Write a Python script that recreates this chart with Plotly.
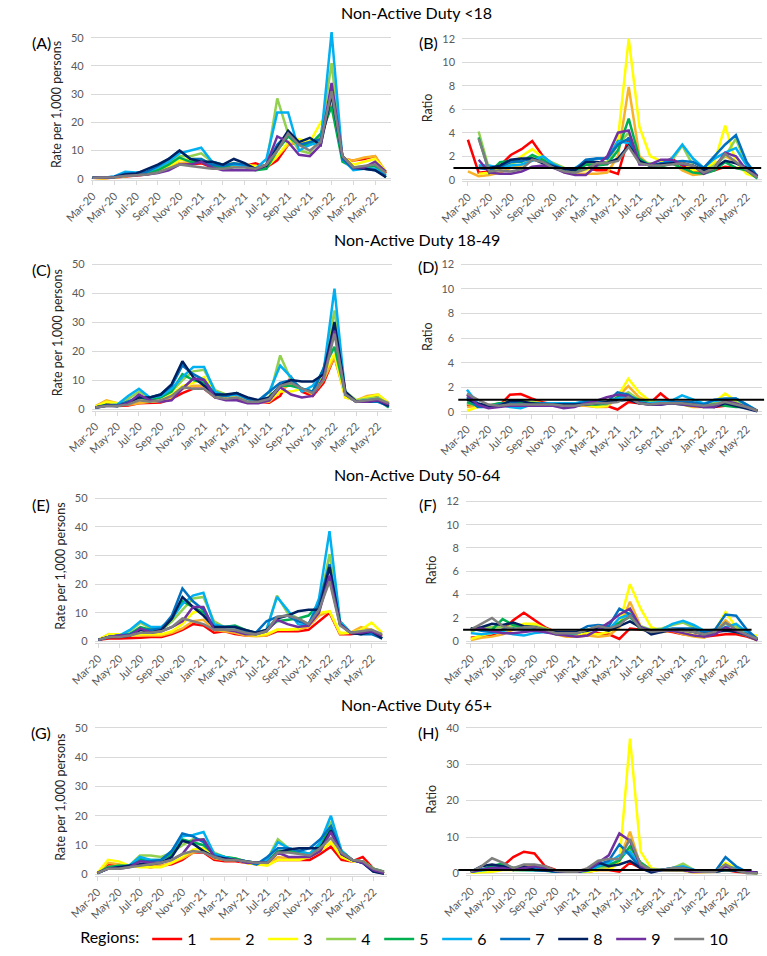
import plotly.graph_objects as go

MONTHS = ["Mar-20", "Apr-20", "May-20", "Jun-20", "Jul-20", "Aug-20", "Sep-20", "Oct-20",
          "Nov-20", "Dec-20", "Jan-21", "Feb-21", "Mar-21", "Apr-21", "May-21", "Jun-21",
          "Jul-21", "Aug-21", "Sep-21", "Oct-21", "Nov-21", "Dec-21", "Jan-22", "Feb-22",
          "Mar-22", "Apr-22", "May-22", "Jun-22"]
TICK_LABELS = MONTHS[::2]
REGIONS = ["1", "2", "3", "4", "5", "6", "7", "8", "9", "10"]
COLORS = ["#FF0000", "#F7B228", "#FFFF00", "#92D050", "#00B050",
          "#00B0F0", "#0070C0", "#002060", "#7030A0", "#7F7F7F"]

# (A) Non-Active Duty <18, rate per 1,000
rate_u18 = [
    [0.3,0.2,0.4,0.8,1.2,1.5,2.5,3.5,5.5,5,5.5,4,3.5,4.5,4.5,5.5,4,6.5,12,13,12,14,27,7,6.5,7,8,2],
    [0.3,0.2,0.4,0.9,1.3,1.6,2.8,4,5.5,6,6,4.5,4,4.5,4.5,4,4,8,12,13,12,15,28,7,6.5,7.5,8,2.5],
    [0.3,0.2,0.5,1,1.5,1.8,3,4.5,6.5,7,7,5,4,5,5,4.5,4,8,13,14,13,20,25,8,5,6,7,2.5],
    [0.3,0.3,0.6,1.4,1.8,2,3.5,5.5,8,8,9,6,5,5.5,5,3.5,5,28.5,16,10,9,15,41,7,4,4.5,4.5,1.5],
    [0.3,0.3,0.6,1.2,1.6,2,3,5,7.5,6,6,4.5,4,5,4.5,3,3.5,10,15,12,12,16,25.5,6,4,4,4.5,0.5],
    [0.3,0.3,0.8,2.5,2.2,2.5,4,6,9,10,11,6,5,5,4.5,3.5,7,23.5,23.5,10,12,13,52,7,3,3.5,3.5,1],
    [0.3,0.3,0.7,1.8,2,2.5,4.5,7,10,7,7,5,4.5,5.5,5,3.5,5,12,16,12,13,14,30,7,3.5,3.5,3,1],
    [0.3,0.3,0.6,1.5,1.8,3.5,5,7,10,7,6,6,5,7,5.5,3.5,4.5,11,17,13,14.5,12,30,8,4,3.5,3,0.5],
    [0.3,0.3,0.5,1,1.2,1.5,2,3,5,5,6,4,3,3,3,3,5,15,13,8.5,8,12,34,8,4,4,6,2.5],
    [0.3,0.3,0.5,1,1.2,1.5,2.2,3.5,5,4.5,4,3.5,3.5,4,4,3.5,5,10,16,12,10,13,31,8,4,4.5,5,2],
]
# (B) Non-Active Duty <18, ratio
ratio_u18 = [
    [3.4,0.6,0.7,1.2,2.1,2.6,3.3,2.0,1.2,0.8,0.9,1.0,0.8,0.8,0.5,3.6,1.5,1.3,1.3,1.8,1.2,0.8,0.6,0.8,1.1,1.0,0.9,0.2],
    [0.7,0.3,0.4,0.6,1.0,1.2,1.8,1.6,1.2,0.6,0.5,0.5,0.5,0.6,2.0,7.9,2.0,1.2,1.3,1.5,0.8,0.4,0.5,1.3,2.0,1.5,0.8,0.2],
    [None,0.5,0.6,0.9,1.3,2.0,2.6,1.9,1.3,0.8,0.7,0.8,1.2,1.5,3.5,12.0,4.5,2.0,1.6,1.5,1.5,0.8,0.8,1.5,4.6,1.5,0.5,0.2],
    [None,4.1,0.8,1.2,1.4,1.6,2.0,1.8,1.4,1.0,0.8,1.4,1.4,1.5,3.0,4.0,1.5,1.4,1.3,1.6,2.9,1.2,0.8,1.2,2.0,3.5,1.2,0.1],
    [None,3.6,0.6,1.5,1.6,1.5,2.1,1.7,1.1,0.7,0.6,1.3,1.2,1.3,2.5,5.2,1.8,1.2,1.1,1.4,1.0,0.6,0.5,0.8,1.5,1.0,0.8,0.1],
    [None,1.2,1.2,1.0,1.2,1.3,1.6,2.0,1.3,0.9,1.0,1.5,1.8,1.8,3.3,3.1,1.6,1.2,1.3,1.8,3.0,1.8,1.0,1.8,2.3,2.7,1.2,0.2],
    [None,1.0,0.9,1.1,1.5,1.6,1.8,1.5,1.2,0.9,0.9,1.7,1.8,1.8,3.0,3.5,1.5,1.2,1.4,1.5,1.6,1.5,1.0,2.0,3.0,3.8,1.5,0.3],
    [None,1.0,1.0,1.2,1.7,1.8,1.8,1.4,1.1,0.9,0.8,1.5,1.5,1.4,1.8,2.9,1.6,1.2,1.3,1.4,1.4,1.2,0.8,1.0,1.6,1.4,1.0,0.3],
    [None,1.7,0.6,0.5,0.5,0.7,1.1,1.2,1.0,0.6,0.4,0.4,1.2,2.0,4.0,4.2,1.3,1.3,1.7,1.7,1.3,1.2,0.5,1.0,2.3,2.0,0.8,0.3],
    [None,3.5,0.7,0.8,0.7,0.9,1.7,1.5,1.0,0.7,0.6,0.9,1.4,1.4,1.6,2.8,1.4,1.2,1.2,1.3,1.4,1.2,0.6,1.0,2.2,1.5,0.8,0.2],
]
# (C) Non-Active Duty 18-49, rate per 1,000
rate_18_49 = [
    [0.5,2.0,1.0,1.2,2.0,2.2,2.2,3.5,5.5,7,7,4,3.5,3.5,2.5,2.5,2.2,4.5,11,6,4.5,9,18,5,2.5,4,4.5,1.5],
    [1,3,2,1.5,2,2.5,2.5,4,7,8,8,5,4,4,3,2.5,2.5,6,9,7,5,10,18,4,3,4.5,5,2],
    [0.8,2.5,2,1.8,3,2.5,3,5,8,9,11,6,4,5,3,2.5,3,6,6,7,6,12,19,4,3,4,5,2],
    [0.5,1.5,1.5,3.5,6,4,4,6,10,13,13.5,6.5,5,5,3.5,2.5,4,18.5,10,7,6,13,34,6,3,3.5,4,1.5],
    [0.5,1.5,1,2,4,3,4,6,12,10,9,5,4.5,5.5,3.5,2.5,3,8,8,7,6,14,21.5,5,2.5,3,3,0.5],
    [0.3,1.2,1.5,4.5,7,4,4.5,7,11,14.5,14.5,6,4.5,5,3.5,2.5,6,15,11,6,8,13,41.5,5,2.5,3,3.5,1],
    [0.5,1.2,1.2,2.5,4,4,5,8,15,12,10,5,4.5,5.5,3.5,3,6,9,10,7,6,14,28,5.5,2.5,2.5,2.5,1],
    [0.5,1.2,1,2,4,4,5,8.5,16.5,11,8,5,5,5.5,4,3,4,8,10,9.5,9.5,12,30,6,2.5,2.5,3,1],
    [0.5,1,1,2,5,3,2.5,3,7,10.5,10,4,3,3,2,2,3,7.5,5,4,4.5,11,27,5,2.5,2.5,3,1.5],
    [0.5,1,1,1.5,3,2.5,3,4.5,7.5,7,7,4,3.5,4,2.5,2.5,3.5,8,9,7,5.5,10,26,5,2.5,3,3.5,2],
]
# (D) Non-Active Duty 18-49, ratio
ratio_18_49 = [
    [0.5,0.6,0.5,0.5,1.4,1.45,1.1,0.8,0.6,0.6,0.6,0.6,0.5,0.5,0.2,0.8,0.7,0.7,1.5,0.8,0.7,0.6,0.5,0.4,0.5,0.5,0.4,0.1],
    [0.4,0.5,0.5,0.6,0.8,0.9,0.8,0.7,0.6,0.6,0.5,0.5,0.4,0.4,1.2,2.1,1.2,0.8,0.7,0.8,0.6,0.4,0.4,0.6,1.0,0.8,0.5,0.1],
    [0.1,0.4,0.5,0.6,0.9,0.9,0.8,0.7,0.7,0.6,0.6,0.6,0.4,0.5,1.2,2.7,1.6,0.9,0.8,0.8,0.7,0.5,0.5,0.8,1.5,0.9,0.5,0.1],
    [0.7,0.5,0.5,0.7,0.8,0.8,0.8,0.7,0.7,0.7,0.7,0.7,0.6,0.6,1.1,1.6,1.0,0.8,0.8,0.8,0.7,0.5,0.6,0.7,0.8,0.8,0.5,0.1],
    [0.8,0.5,0.5,0.7,0.7,0.7,0.7,0.7,0.7,0.7,0.6,0.6,0.6,0.7,1.2,1.3,1.0,0.7,0.7,0.7,0.6,0.5,0.5,0.6,0.5,0.4,0.4,0.1],
    [1.8,0.7,0.4,0.6,0.4,0.3,0.6,0.7,0.7,0.7,0.7,0.9,0.9,0.8,1.1,1.3,0.8,0.7,0.8,0.9,1.35,1.0,0.7,0.9,1.0,1.1,0.6,0.1],
    [1.2,0.4,0.4,0.6,0.8,0.6,0.6,0.7,0.6,0.6,0.6,0.8,0.7,0.8,1.6,1.4,0.8,0.6,0.6,0.8,0.8,0.8,0.6,1.0,1.1,1.1,0.6,0.1],
    [1.0,0.7,0.5,0.5,0.9,0.9,0.7,0.6,0.6,0.6,0.6,0.6,0.7,0.8,0.9,1.0,0.7,0.6,0.6,0.7,0.7,0.6,0.4,0.4,0.7,0.5,0.3,0.05],
    [1.4,0.6,0.3,0.4,0.5,0.5,0.5,0.5,0.5,0.3,0.4,0.7,0.9,1.2,1.4,1.3,0.7,0.6,0.6,0.7,0.6,0.5,0.4,0.4,0.9,0.7,0.4,0.1],
    [1.5,1.0,0.6,0.5,0.6,0.6,0.6,0.6,0.6,0.5,0.5,0.6,0.7,0.7,0.8,1.2,0.7,0.6,0.7,0.7,0.7,0.6,0.5,0.6,0.8,0.6,0.4,0.1],
]
# (E) Non-Active Duty 50-64, rate per 1,000
rate_50_64 = [
    [0.5,1,1,1,1.2,1.5,1.5,2.5,4,6,5.5,3,3.5,2.5,2,2,2,3.5,3.5,3.5,4,7,10,2.5,2.5,3,3,1.5],
    [0.5,2.5,2,2,2,2,2,3,4.5,7,7.5,4,3.5,3,2,1.8,2,4,4,4,5,9,10.5,2.5,3,5,4,2],
    [0.5,2.5,2.5,2,2.5,2.5,2.5,3.5,6,10,11,5,4,3.5,2.5,2,2.5,4,4,4.5,6,10,10.5,3,3,4,6.5,3],
    [0.5,1.5,2,3.5,6.5,4.5,4,7,11,15,15.5,7,5,5,3.5,2.5,4,16,10,8,6,12,30.5,7,3,3.5,4,2],
    [0.5,1.5,2,2.5,5,4,4,8,14,12,10,5,5,5.5,4,3,4,7,7.5,8,9,13,22,6,3,3,3,1],
    [0.5,1.5,2,4,7,5,5,8,13,16,17,6,5,5,3.5,2.5,4,15.5,11,6,5.5,15,38.5,7,3,3,3.5,1],
    [0.5,1.5,2,2.5,4,4,4.5,9,18.5,14,11,5,5,5,3.5,3,7,8.5,9,7,6,13,27,6,3,2.5,2.5,1],
    [0.5,1.5,1.5,2,4,3,4,8,15.5,12,9,5,5,5,4,3,4,8,9,10.5,11,11,26,6,3,2.5,3.5,1],
    [0.5,1.5,2,2,4.5,3,3.5,5,7,12,12,4,4,3.5,2.5,2.5,3.5,7.5,6,5,5.5,10,23,6,3,3,3.5,2],
    [0.5,1.5,1.5,2,3,3,3.5,5,8,7,6,4,4,4,3,2.5,3.5,8.5,9,8,6,11,21,5.5,3,3.5,4,2.5],
]
# (F) Non-Active Duty 50-64, ratio
ratio_50_64 = [
    [0.3,0.4,0.5,1.0,1.8,2.45,1.8,1.2,0.8,0.6,0.5,0.6,0.7,0.6,0.2,1.1,1.0,0.9,0.9,0.8,0.6,0.5,0.4,0.5,0.6,0.6,0.4,0.1],
    [0.1,0.3,0.4,0.6,1.0,1.3,1.3,1.0,0.6,0.4,0.4,0.5,0.4,0.5,1.2,3.4,1.3,0.9,0.8,0.9,0.6,0.4,0.3,0.8,1.8,1.0,0.5,0.1],
    [0.2,0.5,0.7,0.9,1.2,1.5,1.5,1.1,0.8,0.6,0.6,0.7,0.6,0.8,1.5,4.9,2.8,1.2,0.9,1.0,0.9,0.5,0.4,0.9,2.5,1.2,0.5,0.5],
    [0.8,1.2,1.2,1.2,1.3,1.3,1.3,1.1,0.8,0.7,0.7,1.0,1.0,1.1,1.6,2.5,1.3,1.0,1.1,1.4,1.6,1.2,0.8,1.0,1.5,1.3,0.7,0.1],
    [1.0,1.0,1.0,1.9,1.4,1.2,1.2,1.0,0.6,0.6,0.7,1.0,1.0,1.0,1.6,2.1,1.0,0.9,0.9,1.0,1.0,0.8,0.6,0.8,1.0,0.8,0.5,0.1],
    [0.7,0.6,0.7,0.8,0.6,0.5,0.7,0.8,0.7,0.7,0.7,1.0,1.1,1.0,2.0,2.3,1.2,0.9,1.0,1.5,1.75,1.4,0.9,1.0,1.2,1.5,0.8,0.2],
    [1.1,0.9,0.8,1.0,1.1,1.0,1.0,0.8,0.7,0.7,0.8,1.3,1.4,1.3,2.8,2.3,1.1,0.8,0.9,1.1,1.1,1.1,0.8,1.0,2.3,2.2,1.0,0.2],
    [1.1,1.2,1.5,1.4,1.6,1.3,1.2,0.9,0.8,0.8,0.8,0.9,1.1,0.9,1.3,1.7,1.2,0.6,0.8,1.0,1.0,0.8,0.6,0.8,0.9,0.8,0.6,0.1],
    [1.0,1.1,0.9,0.7,0.7,0.8,0.9,0.8,0.6,0.5,0.4,0.5,1.0,1.6,2.3,2.8,1.2,0.9,0.9,0.9,0.7,0.5,0.4,0.6,1.2,0.9,0.5,0.1],
    [1.0,1.5,2.0,1.3,1.0,1.2,1.2,1.0,0.7,0.7,0.7,1.0,1.3,1.1,1.4,2.2,1.1,0.8,0.9,1.0,0.9,0.8,0.6,0.8,1.6,1.0,0.6,0.2],
]
# (G) Non-Active Duty 65+, rate per 1,000
rate_65 = [
    [0.5,3.5,3,3,3,2.5,3,3.5,5,7.5,7.5,5,4.5,4.5,4,3.5,3.5,5,5,5,5,7,9.5,5,4.5,6,2,0.5],
    [0.5,4,3.5,3,3,3,3,4,5.5,7.5,8,5.5,5,5,4,3.5,3.5,6,5.5,5.5,6,8,11,6,4.5,4.5,2,0.5],
    [0.5,5,4.5,3,2.5,2.5,2.5,4,6,8.5,9,6,5,5,4,3.5,3,5,5,5,6,8,11,6,4.5,4.5,2,0.5],
    [0.5,2.5,3,3,6.5,6.5,6,7.5,10,12,12,7.5,6,5.5,4.5,3.5,5,12,9,8,7,10,18,8,5,4.5,2,1],
    [0.5,2.5,3,3,5.5,5,5,7,12,11,10,7,6,5.5,4.5,4,4.5,8,8,7.5,7,10,16,8,5,4.5,2,1],
    [0.5,2,2.5,3,6,5,5,8,13,13.5,14.5,7,6,5,4.5,3.5,5,11,9,8,7,11,20,8,5,4,1.5,0.5],
    [0.5,2,2.5,3,4.5,4.5,5,8,14,13,11,6.5,5.5,5,4.5,3.5,6,9,9,8,9,12,16.5,7.5,5,4,1,0.5],
    [0.5,2,2.5,3,3.5,3.5,4,6,11.5,10.5,8,6,5.5,5,4.5,4,4,7.5,8.5,9,9,9,15,7,5,4,1,0.3],
    [0.5,2,2,2.5,4.5,4,4,5,7,11.5,12,6,5,5,4,4,4,7.5,6,6,6,8,14.5,7,5,4,1.5,0.5],
    [0.5,2,2,2.5,3,3.5,4,5,7,8,7.5,6,5,5,4.5,4,4,7.5,7.5,7,6.5,9,12.5,7.5,5,4.5,2,1],
]
# (H) Non-Active Duty 65+, ratio
ratio_65 = [
    [0.5,0.8,1.5,2,4.5,6,5.5,2,1,0.5,0.5,0.5,1,1,0.5,3,1.5,1,1,1,1,0.5,0.5,0.5,1,0.5,0.3,0.2],
    [0.3,0.5,1,1.5,1.5,2,2,1,0.5,0.4,0.5,0.5,1,1.5,4,11.5,2,1,1,1,0.8,0.3,0.3,0.5,2,1,0.3,0.1],
    [0.2,0.3,0.5,1,1,1,1,0.8,0.5,0.4,0.5,0.5,1,1,3,37,6,1.5,1,1,1,0.5,0.5,0.5,3,1.5,0.3,0.1],
    [0.5,1,2,2.5,1.5,1.5,1.5,1,0.5,0.5,0.5,0.8,1.5,2,4,7,3,1,1,1.5,2.7,1,0.5,0.5,1,1,0.5,0.1],
    [0.5,1,2,2.8,1.5,1.5,1.5,1,0.5,0.5,0.5,0.8,2,2.5,3.5,7.5,3,1,1,1,1,0.5,0.5,0.5,1,0.8,0.3,0.1],
    [0.5,0.8,1,1.5,1,1,1,0.8,0.5,0.5,0.5,1,2,3,5,6,2,1,1,1.5,2,1,0.5,0.5,2,1.5,0.5,0.2],
    [0.5,1.2,1.5,2,1.5,1.5,1.5,1,0.5,0.5,0.5,1,2.5,3.5,8,5,1.5,0.5,1,1.5,1.5,1,0.5,0.5,4.5,2,0.5,0.2],
    [0.5,2,2.5,2,1,2,1,0.8,0.5,0.5,0.5,1,3,2,2.5,3.5,1.5,0.3,1,1,1,0.5,0.5,0.5,1,0.8,0.5,0.3],
    [0.5,1,1.5,1.5,1,1.5,2,1.5,0.8,0.5,0.5,1,3,5,11,9,2,1,1,1,1,0.5,0.5,0.5,2,1,0.5,0.2],
    [0.5,2,4.2,3,1.5,2.5,2.5,2,0.8,0.5,0.5,1.5,3.5,4,4,9.5,2.5,1,1,1.5,1.5,0.8,0.5,0.5,2.5,1,0.1,0.1],
]

SECTION_TITLES = ["Non-Active Duty <18", "Non-Active Duty 18-49",
                  "Non-Active Duty 50-64", "Non-Active Duty 65+"]
PANEL_LABELS = ["(A)", "(B)", "(C)", "(D)", "(E)", "(F)", "(G)", "(H)"]
REF_VALUE = 1

W, H = 767, 956
FONT = "Lato"

# layout geometry in pixels: first point x, last point x, grid left, grid right,
# top tick value, top tick y, zero y
panels = [
    dict(data=rate_u18,   first=68,  last=372, gl=66,  gr=377, top=50, ytop=35,  y0=177, ratio=False),
    dict(data=ratio_u18,  first=457, last=757, gl=451, gr=762, top=12, ytop=36,  y0=178, ratio=True, ref=(442, 761)),
    dict(data=rate_18_49, first=71,  last=375, gl=67,  gr=378, top=50, ytop=263, y0=409, ratio=False),
    dict(data=ratio_18_49,first=456, last=757, gl=450, gr=762, top=12, ytop=263, y0=412, ratio=True, ref=(447, 764)),
    dict(data=rate_50_64, first=74,  last=368, gl=70,  gr=373, top=50, ytop=499, y0=643, ratio=False),
    dict(data=ratio_50_64,first=460, last=757, gl=455, gr=762, top=12, ytop=502, y0=643, ratio=True, ref=(452, 751)),
    dict(data=rate_65,    first=73,  last=370, gl=70,  gr=373, top=50, ytop=730, y0=878, ratio=False),
    dict(data=ratio_65,   first=460, last=757, gl=455, gr=762, top=40, ytop=730, y0=877, ratio=True, ref=(447, 751)),
]
label_pos = [(15, 40), (416, 40), (15, 268), (416, 265), (15, 505), (416, 505), (15, 735), (416, 735)]
title_y = [10, 238, 475, 707]

fig = go.Figure()
layout = dict(width=W, height=H, margin=dict(l=0, r=0, t=0, b=0), autosize=False,
              paper_bgcolor="white", plot_bgcolor="white",
              font=dict(family=FONT, color="#000000"), showlegend=True)
annotations = []
shapes = []
n = len(MONTHS) - 1

for p_i, p in enumerate(panels):
    k = p_i + 1
    xa = "xaxis" if k == 1 else f"xaxis{k}"
    ya = "yaxis" if k == 1 else f"yaxis{k}"
    xr = "x" if k == 1 else f"x{k}"
    yr = "y" if k == 1 else f"y{k}"
    ppm = (p["last"] - p["first"]) / n
    x_range = [-(p["first"] - p["gl"]) / ppm, n + (p["gr"] - p["last"]) / ppm]
    ppu = (p["y0"] - p["ytop"]) / p["top"]
    r_top = p["top"] * (1.065 if not p["ratio"] else 1.03)
    r_bot = -p["top"] * 0.012
    top_px = p["y0"] - r_top * ppu
    bot_px = p["y0"] - r_bot * ppu
    step = 10 if p["top"] >= 40 else 2
    tickvals = list(range(0, p["top"] + 1, step))
    layout[xa] = dict(domain=[p["gl"] / W, p["gr"] / W], range=x_range, type="category",
                      categoryorder="array", categoryarray=MONTHS,
                      tickmode="array", tickvals=TICK_LABELS, ticktext=TICK_LABELS,
                      tickangle=-45, tickfont=dict(size=11, color="#595959", family=FONT),
                      showgrid=False, showline=True, linecolor="#D9D9D9", linewidth=1,
                      ticks="outside", ticklen=4, tickcolor="#D9D9D9", anchor=yr,
                      zeroline=False, fixedrange=True)
    layout[ya] = dict(domain=[1 - bot_px / H, 1 - top_px / H], range=[r_bot, r_top],
                      tickmode="array", tickvals=tickvals,
                      tickfont=dict(size=11, color="#595959", family=FONT),
                      showgrid=True, gridcolor="#D9D9D9", gridwidth=1, zeroline=False,
                      showline=False, ticks="", anchor=xr, ticklabelstandoff=6,
                      title=dict(text="Ratio" if p["ratio"] else "Rate per 1,000 persons",
                                 font=dict(size=12.5, color="#262626", family=FONT),
                                 standoff=6),
                      fixedrange=True)
    for s_i, series in enumerate(p["data"]):
        fig.add_trace(go.Scatter(
            x=MONTHS, y=series, mode="lines", name=REGIONS[s_i],
            line=dict(color=COLORS[s_i], width=2.5), xaxis=xr, yaxis=yr,
            legendgroup=REGIONS[s_i], showlegend=(p_i == 0), connectgaps=False,
            hoverinfo="skip"))
    if p["ratio"]:
        shapes.append(dict(type="line", xref="paper", yref=yr,
                           x0=p["ref"][0] / W, x1=p["ref"][1] / W, y0=REF_VALUE, y1=REF_VALUE,
                           line=dict(color="#000000", width=2), layer="above"))
    lx, ly = label_pos[p_i]
    annotations.append(dict(text=PANEL_LABELS[p_i], x=lx / W, y=1 - ly / H, xref="paper", yref="paper",
                            showarrow=False, xanchor="center", yanchor="middle",
                            font=dict(size=16, color="#000000", family=FONT)))

for t_i, t in enumerate(SECTION_TITLES):
    annotations.append(dict(text=t, x=404 / W, y=1 - title_y[t_i] / H, xref="paper", yref="paper",
                            showarrow=False, xanchor="center", yanchor="middle",
                            font=dict(size=16, color="#000000", family=FONT)))

layout["annotations"] = annotations
layout["shapes"] = shapes
layout["legend"] = dict(orientation="h", x=53 / W, y=1 - 943 / H, xanchor="left", yanchor="middle",
                        title=dict(text="Regions:", font=dict(size=16, family=FONT, color="#000000")),
                        font=dict(size=16, family=FONT, color="#000000"),
                        entrywidth=13, entrywidthmode="pixels", itemwidth=30,
                        bgcolor="rgba(0,0,0,0)", tracegroupgap=0)
fig.update_layout(**layout)
fig.write_html("out.html")
